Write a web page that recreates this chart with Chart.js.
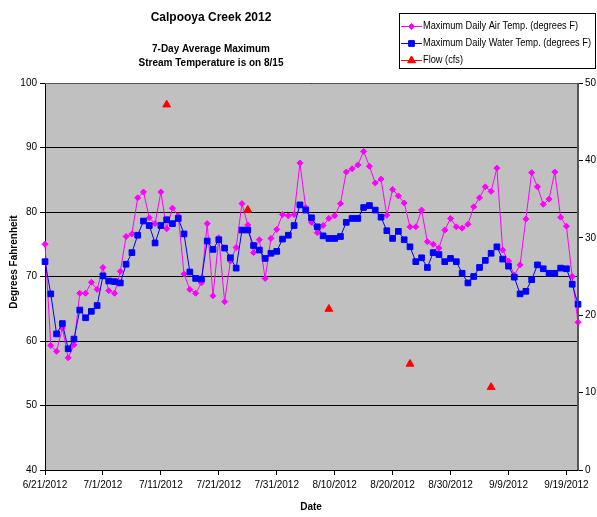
<!DOCTYPE html>
<html>
<head>
<meta charset="utf-8">
<script src="https://cdn.jsdelivr.net/npm/chart.js@4"></script>
<style>
html,body{margin:0;padding:0;background:#fff;}
#wrap{position:relative;width:597px;height:517px;}
canvas{display:block;}
</style>
</head>
<body>
<div id="wrap"><canvas id="c" width="597" height="517"></canvas></div>
<script>
// ---- data ----
const startDate = [2012, 6, 21]; // 6/21/2012, x axis counts days from this date
const airTemp = [75.0,59.3,58.4,62.0,57.4,59.4,67.4,67.4,69.1,68.0,
  71.4,67.8,67.4,70.8,76.2,76.6,82.2,83.1,79.1,78.2,
  83.1,77.4,80.6,79.4,70.4,68.0,67.4,69.0,78.2,67.0,
  76.0,66.1,72.4,74.5,81.3,78.0,73.7,75.7,69.7,75.9,
  77.3,79.6,79.4,79.6,87.6,80.7,78.4,76.8,77.9,79.0,
  79.4,81.3,86.2,86.7,87.3,89.4,87.1,84.5,85.1,79.5,
  83.5,82.5,81.4,77.7,77.7,80.3,75.4,75.0,74.4,77.2,
  79.0,77.7,77.5,78.1,80.8,82.2,83.9,83.2,86.8,74.1,
  72.4,70.2,71.8,78.9,86.1,83.9,81.2,82.0,86.2,79.2,
  77.8,70.0,62.9];
const waterTemp = [72.3,67.3,61.1,62.7,58.8,60.3,64.8,63.6,64.6,65.5,
  70.1,69.3,69.2,69.0,71.9,73.7,76.4,78.6,77.9,75.2,
  77.9,78.8,78.2,79.0,76.6,70.7,69.7,69.6,75.5,74.2,
  75.7,74.4,72.9,71.3,77.2,77.2,74.8,74.1,72.8,73.6,
  73.9,75.8,76.4,77.9,81.1,80.3,79.1,77.7,76.3,75.9,
  75.9,76.2,78.4,79.0,79.0,80.7,81.0,80.3,79.2,77.1,
  75.9,77.0,75.7,74.6,72.3,72.9,71.4,73.7,73.4,72.3,
  72.8,72.3,70.5,69.0,70.0,71.4,72.5,73.6,74.6,72.7,
  71.6,69.9,67.3,67.7,69.5,71.8,71.2,70.5,70.5,71.3,
  71.2,68.8,65.7];
const flowDay = [21, 35, 49, 63, 77];
const flowCfs = [47.2, 33.6, 20.8, 13.7, 10.7];
const tempTicks = [40, 100, 10];   // min, max, step
const flowTicks = [0, 50, 10];
const dayRange = [0, 92, 10];

const titleText = 'Calpooya Creek 2012';
const subText = ['7-Day Average Maximum', 'Stream Temperature is on 8/15'];
const seriesNames = ['Maximum Daily Air Temp. (degrees F)', 'Maximum Daily Water Temp. (degrees F)', 'Flow (cfs)'];

function fmtDay(d){
  const dt = new Date(startDate[0], startDate[1]-1, startDate[2] + d);
  return (dt.getMonth()+1) + '/' + dt.getDate() + '/' + dt.getFullYear();
}

const FONT = '"Liberation Sans", Arial, sans-serif';
Chart.defaults.font.family = FONT;
Chart.defaults.font.size = 10;
Chart.defaults.color = '#000';

const bgPlugin = {
  id: 'bg',
  beforeDraw(chart){
    const {ctx, chartArea:a} = chart;
    ctx.save();
    ctx.fillStyle = '#C0C0C0';
    ctx.fillRect(a.left, a.top, a.right-a.left, a.bottom-a.top);
    ctx.restore();
  },
  afterDraw(chart){
    const {ctx, chartArea:a} = chart;
    ctx.save();
    ctx.strokeStyle = '#555';
    ctx.lineWidth = 1;
    ctx.beginPath();
    ctx.moveTo(a.left, a.top+0.5); ctx.lineTo(a.right, a.top+0.5);
    ctx.moveTo(a.right-0.5, a.top); ctx.lineTo(a.right-0.5, a.bottom);
    ctx.stroke();
    // titles
    ctx.fillStyle = '#000';
    ctx.textAlign = 'center';
    ctx.textBaseline = 'middle';
    ctx.font = 'bold 12px ' + FONT;
    ctx.fillText(titleText, 211, 18);
    ctx.font = 'bold 10px ' + FONT;
    ctx.fillText(subText[0], 211, 49);
    ctx.fillText(subText[1], 211, 63);
    ctx.fillText('Date', 311, 507);
    ctx.save();
    ctx.translate(14, 262);
    ctx.rotate(-Math.PI/2);
    ctx.fillText('Degrees Fahrenheit', 0, 0);
    ctx.restore();
    // legend
    ctx.strokeStyle = '#000';
    ctx.lineWidth = 1;
    ctx.strokeRect(399.5, 13.5, 196, 55);
    const ys = [26, 43, 60];
    const cols = ['#FF00FF', '#0000FF', '#FF0000'];
    const styles = ['rectRot', 'rect', 'triangle'];
    const radii = [3, 4, 4.5];
    ctx.font = '10px ' + FONT;
    ctx.textAlign = 'left';
    const sx = Math.min(1, 168 / ctx.measureText(seriesNames[1]).width);
    for (let i=0;i<3;i++){
      ctx.strokeStyle = cols[i];
      ctx.beginPath();
      ctx.moveTo(401, ys[i]+0.5); ctx.lineTo(422, ys[i]+0.5);
      ctx.stroke();
      ctx.fillStyle = cols[i];
      Chart.helpers.drawPoint(ctx, {pointStyle: styles[i], radius: radii[i], borderWidth: 1, rotation: 0}, 411.5, ys[i]+0.5);
      ctx.fill();
      ctx.fillStyle = '#000';
      ctx.save();
      ctx.translate(423, ys[i]+0.5);
      ctx.scale(sx, 1);
      ctx.fillText(seriesNames[i], 0, 0);
      ctx.restore();
    }
    ctx.restore();
  }
};

new Chart(document.getElementById('c'), {
  type: 'line',
  data: {
    datasets: [
      {
        label: seriesNames[0],
        data: airTemp.map((v,i)=>({x:i, y:v})),
        borderColor: '#FF00FF', backgroundColor: '#FF00FF',
        borderWidth: 1, pointStyle: 'rectRot', pointRadius: 3,
        pointBorderColor: '#FF00FF', pointBackgroundColor: '#FF00FF', pointBorderWidth: 1,
        yAxisID: 'y', tension: 0, clip: false, order: 2
      },
      {
        label: seriesNames[1],
        data: waterTemp.map((v,i)=>({x:i, y:v})),
        borderColor: '#0000FF', backgroundColor: '#0000FF',
        borderWidth: 1, pointStyle: 'rect', pointRadius: 4,
        pointBorderColor: '#0000FF', pointBackgroundColor: '#0000FF', pointBorderWidth: 1,
        yAxisID: 'y', tension: 0, clip: false, order: 1
      },
      {
        label: seriesNames[2],
        data: flowDay.map((d,i)=>({x:d, y:flowCfs[i]})),
        borderColor: '#FF0000', backgroundColor: '#FF0000',
        showLine: false, pointStyle: 'triangle', pointRadius: 4.5,
        pointBorderColor: '#FF0000', pointBackgroundColor: '#FF0000', pointBorderWidth: 1,
        yAxisID: 'y2', clip: false, order: 0
      }
    ]
  },
  options: {
    responsive: false,
    animation: false,
    layout: { padding: { top: 83, left: 0, right: 0, bottom: 0 } },
    plugins: { legend: { display: false }, title: { display: false }, tooltip: { enabled: false } },
    scales: {
      x: {
        type: 'linear', min: dayRange[0], max: dayRange[1],
        afterFit(s){ s.height = 47; },
        ticks: { stepSize: dayRange[2], includeBounds: false, maxRotation: 0, autoSkip: false,
                 padding: 4, color: '#000', font: { size: 10 },
                 callback: (v)=>fmtDay(v) },
        grid: { drawOnChartArea: false, drawTicks: true, tickLength: 5, color: '#000' },
        border: { display: true, color: '#000', width: 1 }
      },
      y: {
        position: 'left', min: tempTicks[0], max: tempTicks[1],
        afterFit(s){ s.width = 45; },
        ticks: { stepSize: tempTicks[2], padding: 3, color: '#000', font: { size: 10 } },
        grid: { color: '#000', lineWidth: 1, tickLength: 5 },
        border: { display: true, color: '#000', width: 1 }
      },
      y2: {
        position: 'right', min: flowTicks[0], max: flowTicks[1],
        afterFit(s){ s.width = 19; },
        ticks: { stepSize: flowTicks[2], padding: 2, color: '#000', font: { size: 10 } },
        grid: { drawOnChartArea: false, color: '#000', tickLength: 5 },
        border: { display: true, color: '#555', width: 1 }
      }
    }
  },
  plugins: [bgPlugin]
});
</script>
</body>
</html>
